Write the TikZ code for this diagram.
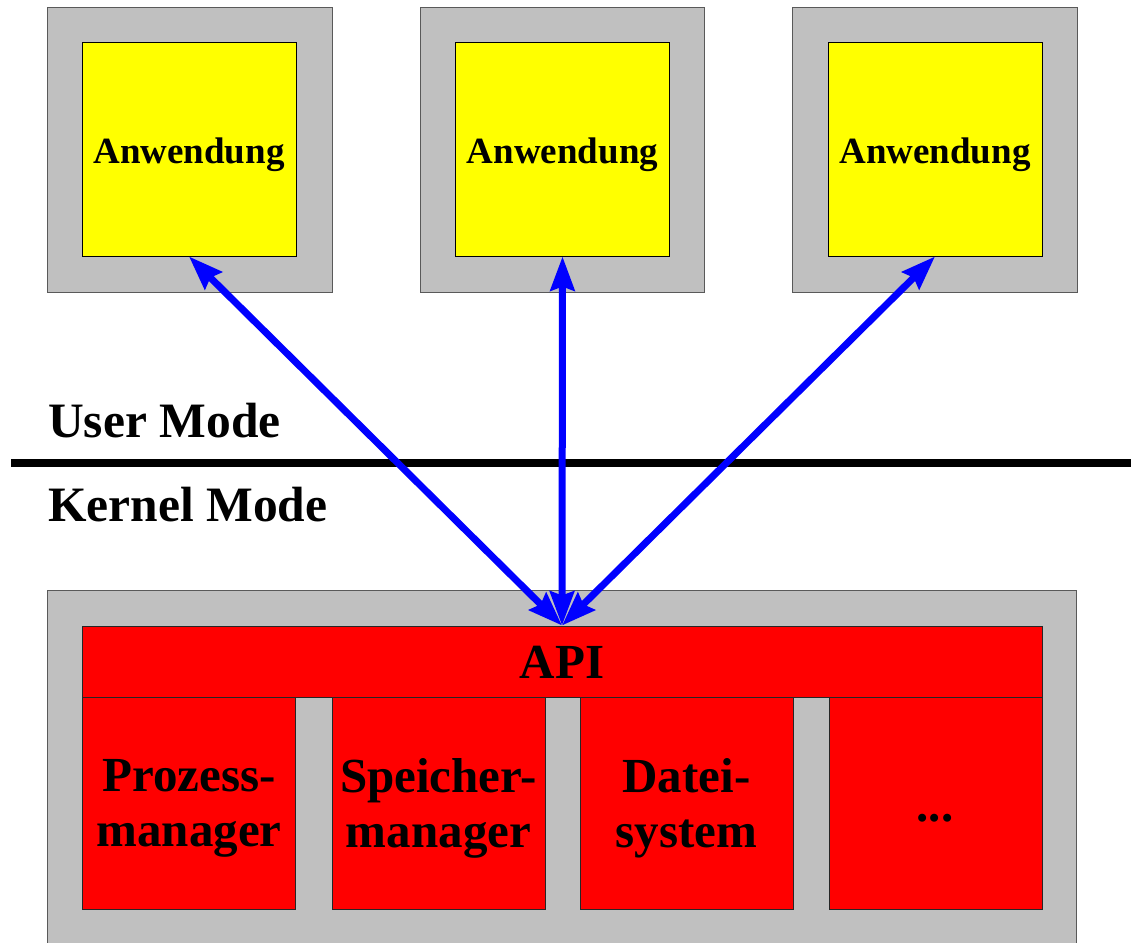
\documentclass[tikz,border=0pt]{standalone}
\usepackage{fontspec}
\setmainfont{Liberation Serif}
\usetikzlibrary{arrows.meta}
\definecolor{paneg}{HTML}{C0C0C0}
\definecolor{appy}{HTML}{FFFF00}
\definecolor{kred}{HTML}{FF0000}
\definecolor{arrb}{HTML}{0000FF}
\begin{document}
\begin{tikzpicture}[x=1pt,y=-1pt,
  pane/.style={draw=black!65,line width=1pt,fill=paneg,inner sep=0pt},
  appbox/.style={draw=black,line width=1pt,fill=appy,inner sep=0pt,minimum width=214pt,minimum height=213pt},
  redbox/.style={draw=black!85,line width=1pt,fill=kred,inner sep=0pt},
  modbox/.style={redbox,minimum width=213pt,minimum height=212pt},
  apptext/.style={font=\bfseries\fontsize{37}{44}\selectfont,inner sep=0pt,anchor=base},
  bigtext/.style={font=\bfseries\fontsize{49}{55}\selectfont,inner sep=0pt,align=center},
  headtip/.style={},
  arr/.style={{Stealth[length=34pt,width=24pt,inset=4pt]}-{Stealth[length=34pt,width=24pt,inset=4pt]},draw=arrb,line width=7pt}]
\useasboundingbox (0,0) rectangle (1131,942);
% user-mode panes
\node[pane,minimum width=285pt,minimum height=284pt] (p1) at (189.5,150) {};
\node[pane,minimum width=284pt,minimum height=284pt] (p2) at (562,150) {};
\node[pane,minimum width=285pt,minimum height=284pt] (p3) at (934.5,150) {};
\node[appbox] (a1) at (189,149.5) {};
\node[appbox] (a2) at (562.5,149.5) {};
\node[appbox] (a3) at (935,149.5) {};
\node[apptext] (ta1) at (a1 |- 0,163) {Anwendung};
\node[apptext] (ta2) at (a2 |- 0,163) {Anwendung};
\node[apptext] (ta3) at (a3 |- 0,163) {Anwendung};
% mode separator
\coordinate (sl) at (11,463);
\coordinate (sr) at (1131,463);
\draw[line width=8pt] (sl) -- (sr);
\node[font=\bfseries\fontsize{49.5}{55}\selectfont,inner sep=0pt,anchor=base west] (um) at (48,437) {User Mode};
\node[font=\bfseries\fontsize{49.5}{55}\selectfont,inner sep=0pt,anchor=base west] (km) at (48,521) {Kernel Mode};
% kernel pane
\node[pane,minimum width=1029pt,minimum height=370pt] (kp) at (561.5,775) {};
\node[redbox,minimum width=960pt,minimum height=71pt] (api) at (562,661.5) {};
\node[font=\bfseries\fontsize{49}{55}\selectfont,inner sep=0pt,anchor=base] (tapi) at (562,678) {API};
\node[modbox] (m1) at (189,803) {};
\node[modbox] (m2) at (438.5,803) {};
\node[modbox] (m3) at (686.5,803) {};
\node[modbox] (m4) at (935.5,803) {};
\node[bigtext] (t1) at (189,808.5) {Prozess-\\manager};
\node[bigtext] (t2) at (438.5,808.5) {Speicher-\\manager};
\node[bigtext] (t3) at (686.5,808.5) {Datei-\\system};
\node[font=\bfseries\fontsize{49}{55}\selectfont,inner sep=0pt,anchor=base] (t4) at (935,821) {...};
% system calls
\draw[arr] (a1.south) -- (api.north);
\draw[arr] (a2.south) -- (api.north);
\draw[arr] (a3.south) -- (api.north);
\end{tikzpicture}
\end{document}
